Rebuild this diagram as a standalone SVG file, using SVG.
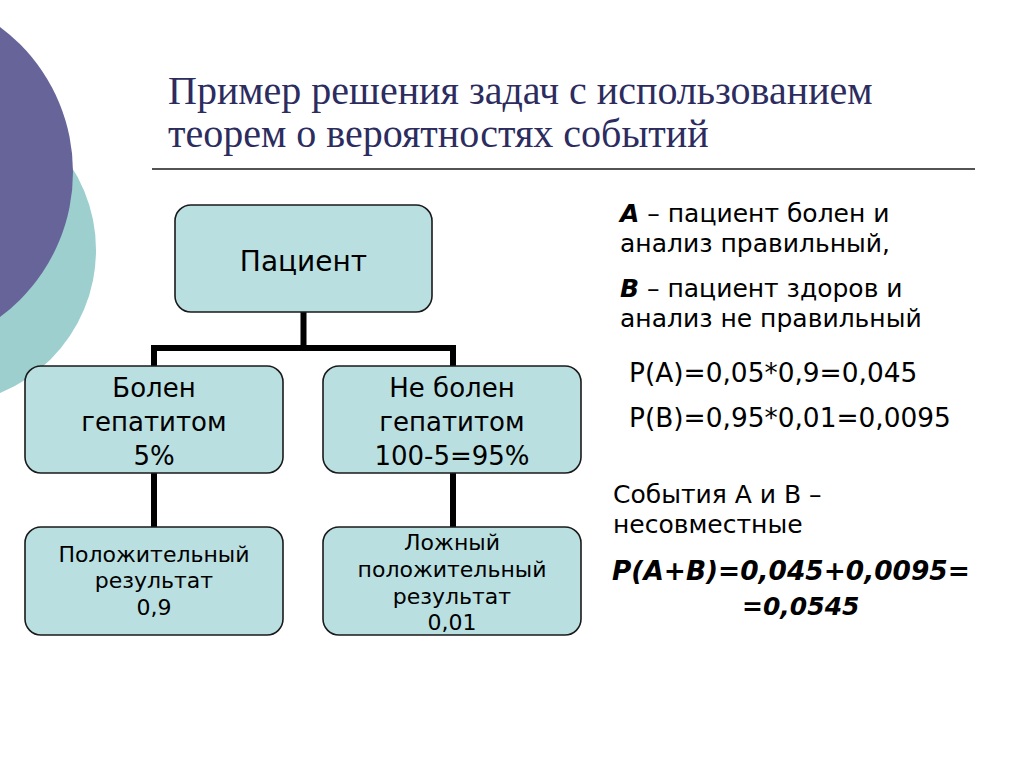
<svg xmlns="http://www.w3.org/2000/svg" width="1024" height="767" viewBox="0 0 1024 767">
<style>
.box{fill:#b9dfe1;stroke:#1a1a1a;stroke-width:1.6}
.bt{font-family:"DejaVu Sans","Verdana",sans-serif;fill:#000;text-anchor:middle}
.conn{fill:none;stroke:#000;stroke-width:6;stroke-linecap:square}
.rt{font-family:"DejaVu Sans","Verdana",sans-serif;font-size:25px;fill:#000}
.big{font-size:26.4px}
.bi{font-weight:bold;font-style:italic}
.title{font-family:"Liberation Serif","Times New Roman",serif;font-size:40px;fill:#2c2c5f}
</style>
<rect width="1024" height="767" fill="#ffffff"/>
<g id="background">
<circle cx="-58.5" cy="250" r="154.5" fill="#9dcfcf"/>
<circle cx="-107.5" cy="172" r="180.5" fill="#67649a"/>
</g>
<g id="title">
<text class="title" x="168" y="104">Пример решения задач с использованием</text>
<text class="title" x="168" y="147">теорем о вероятностях событий</text>
<line x1="152" y1="169" x2="975" y2="169" stroke="#1a1a1a" stroke-width="1.6"/>
</g>
<g id="connectors">
<path class="conn" d="M303.5,313 V348 M154,348 H453 M154,348 V365 M453,348 V365"/>
<path class="conn" d="M154,474 V526"/>
<path class="conn" d="M453,474 V526"/>
</g>
<g id="node-patient">
<rect class="box" x="175" y="205" width="257" height="107" rx="16"/>
<text class="bt" x="303.5" y="271" font-size="28">Пациент</text>
</g>
<g id="node-sick">
<rect class="box" x="25" y="366" width="258" height="107" rx="16"/>
<text class="bt" x="154" y="397" font-size="26">Болен</text>
<text class="bt" x="154" y="431" font-size="26">гепатитом</text>
<text class="bt" x="154" y="465" font-size="26">5%</text>
</g>
<g id="node-healthy">
<rect class="box" x="323" y="366" width="258" height="107" rx="16"/>
<text class="bt" x="452" y="397" font-size="26">Не болен</text>
<text class="bt" x="452" y="431" font-size="26">гепатитом</text>
<text class="bt" x="452" y="465" font-size="26">100-5=95%</text>
</g>
<g id="node-positive">
<rect class="box" x="25" y="527" width="258" height="108" rx="16"/>
<text class="bt" x="154" y="562" font-size="22">Положительный</text>
<text class="bt" x="154" y="588" font-size="22">результат</text>
<text class="bt" x="154" y="615" font-size="22">0,9</text>
</g>
<g id="node-false-positive">
<rect class="box" x="323" y="527" width="258" height="108" rx="16"/>
<text class="bt" x="452" y="550" font-size="22">Ложный</text>
<text class="bt" x="452" y="577" font-size="22">положительный</text>
<text class="bt" x="452" y="604" font-size="22">результат</text>
<text class="bt" x="452" y="630" font-size="22">0,01</text>
</g>
<g id="notes">
<text class="rt" x="620" y="222"><tspan class="bi">А</tspan> – пациент болен и</text>
<text class="rt" x="620" y="252">анализ правильный,</text>
<text class="rt" x="620" y="297"><tspan class="bi">В</tspan> – пациент здоров и</text>
<text class="rt" x="620" y="327">анализ не правильный</text>
<text class="rt big" x="629" y="382">P(A)=0,05*0,9=0,045</text>
<text class="rt big" x="629" y="427">P(B)=0,95*0,01=0,0095</text>
<text class="rt" x="613" y="503">События А и В –</text>
<text class="rt" x="613" y="533">несовместные</text>
<text class="rt bi big" x="612" y="580">P(A+B)=0,045+0,0095=</text>
<text class="rt bi" x="742" y="615">=0,0545</text>
</g>
</svg>
